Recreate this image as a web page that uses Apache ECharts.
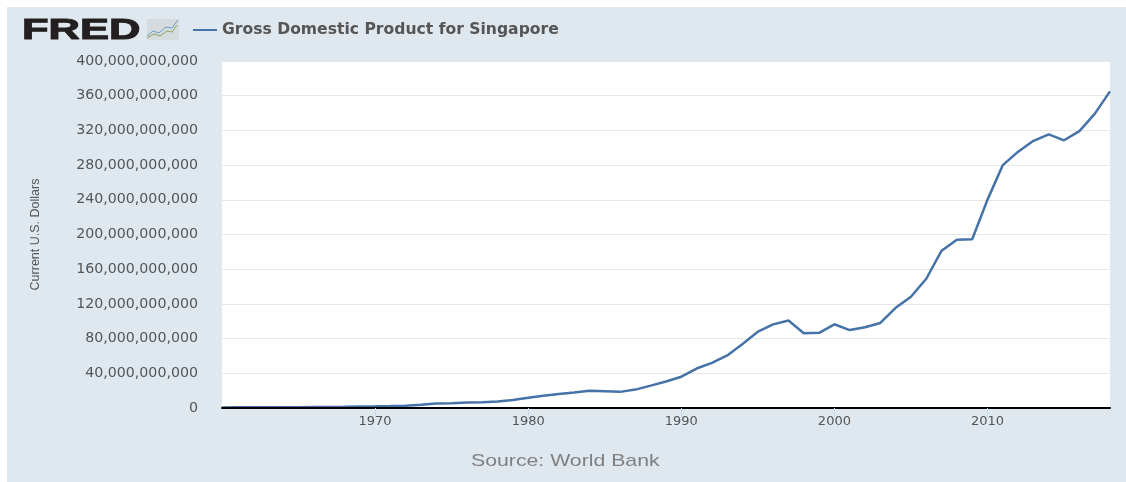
<!DOCTYPE html>
<html><head><meta charset="utf-8">
<style>html,body{margin:0;padding:0;background:#fff}#c{width:1126px;height:482px}</style>
<script src="https://cdn.jsdelivr.net/npm/echarts@6/dist/echarts.min.js"></script>
</head><body><div id="c"></div>
<script>
const seriesName = "Gross Domestic Product for Singapore";
const years = [1960,1961,1962,1963,1964,1965,1966,1967,1968,1969,1970,1971,1972,1973,1974,1975,1976,1977,1978,1979,1980,1981,1982,1983,1984,1985,1986,1987,1988,1989,1990,1991,1992,1993,1994,1995,1996,1997,1998,1999,2000,2001,2002,2003,2004,2005,2006,2007,2008,2009,2010,2011,2012,2013,2014,2015,2016,2017,2018];
const gdpBillions = [0.7,0.76,0.83,0.92,0.89,0.97,1.1,1.24,1.43,1.7,1.9,2.26,2.7,3.7,5.2,5.6,6.3,6.6,7.5,9.3,11.9,14.2,16.1,17.8,19.8,19.2,18.6,21.2,25.8,30.6,36.1,45.5,52.1,60.6,73.7,87.9,96.4,100.8,86.2,86.6,96.5,89.8,93,98,115.5,128.3,149,181.3,194,194.6,240.2,280,295.5,308,315.5,308.6,319.2,339,365];
const xTicks = [1970,1980,1990,2000,2010];
const yTitle = "Current U.S. Dollars";
const sourceText = "Source: World Bank";
const labelFont = '"DejaVu Sans"';
const chart = echarts.init(document.getElementById('c'), null, {renderer:'canvas'});
chart.setOption({
  animation:false,
  backgroundColor:'#ffffff',
  textStyle:{fontFamily:'"Liberation Sans"'},
  grid:{left:222,top:61,width:888,height:347,borderWidth:0},
  legend:{left:188,top:17,itemWidth:24,itemHeight:2,itemGap:8,icon:'rect',
    data:[seriesName],
    textStyle:{color:'#555555',fontFamily:'"DejaVu Sans"',fontSize:15.6,fontWeight:'bold'}},
  xAxis:{type:'value',min:1960,max:2018,z:6,
    axisLine:{show:true,onZero:false,lineStyle:{color:'#000000',width:2}},
    axisTick:{show:true,length:9,customValues:xTicks,lineStyle:{color:'#ccd6eb',width:1}},
    splitLine:{show:false},
    axisLabel:{color:'#555555',fontSize:13,fontFamily:labelFont,margin:7,customValues:xTicks,
      formatter:v=>String(v)}},
  yAxis:{type:'value',min:0,max:400,interval:40,
    name:yTitle,nameLocation:'middle',nameRotate:90,nameGap:180,
    nameTextStyle:{color:'#555555',fontSize:12.5,fontFamily:'"Liberation Sans Narrow","Liberation Sans"'},
    axisLine:{show:false},axisTick:{show:false},
    splitLine:{show:true,lineStyle:{color:'#e6e6e6',width:1}},
    axisLabel:{color:'#555555',fontSize:14.2,fontFamily:labelFont,margin:24,padding:[4,0,0,0],
      formatter:v=>v===0?'0':v+',000,000,000'}},
  series:[{name:seriesName,type:'line',showSymbol:false,symbol:'none',smooth:false,
    lineStyle:{color:'#4572a7',width:2.5},itemStyle:{color:'#4572a7'},
    data:years.map((y,i)=>[y,gdpBillions[i]]),z:3}],
  graphic:[
    {type:'rect',z:-10,silent:true,shape:{x:7,y:7,width:1119,height:475},style:{fill:'#e0e8ef'}},
    {type:'rect',z:-9,silent:true,shape:{x:222,y:61,width:888,height:347},style:{fill:'#ffffff'}},
    {type:'text',z:5,x:22,y:16,scaleX:1.5,style:{text:'FRED',fill:'#231f20',fontSize:29,fontWeight:'bold',fontFamily:'"Liberation Sans"',stroke:'#231f20',lineWidth:1}},
    {type:'rect',z:5,shape:{x:147,y:19,width:32,height:21},style:{fill:'#d6dbdf'}},
    {type:'polyline',z:6,shape:{points:[[147,36],[153,31],[159,33],[166,27],[172,28],[178,20]]},style:{stroke:'#6d9cc4',lineWidth:1,fill:'none'}},
    {type:'polyline',z:6,shape:{points:[[147,38],[154,34],[160,36],[167,31],[172,32],[177,25]]},style:{stroke:'#8aa85a',lineWidth:1,fill:'none'}},
    {type:'text',z:5,x:471,y:453,scaleX:1.25,style:{text:sourceText,fill:'#808080',fontSize:17,fontFamily:'"Liberation Sans"'}}
  ]
});
</script></body></html>
